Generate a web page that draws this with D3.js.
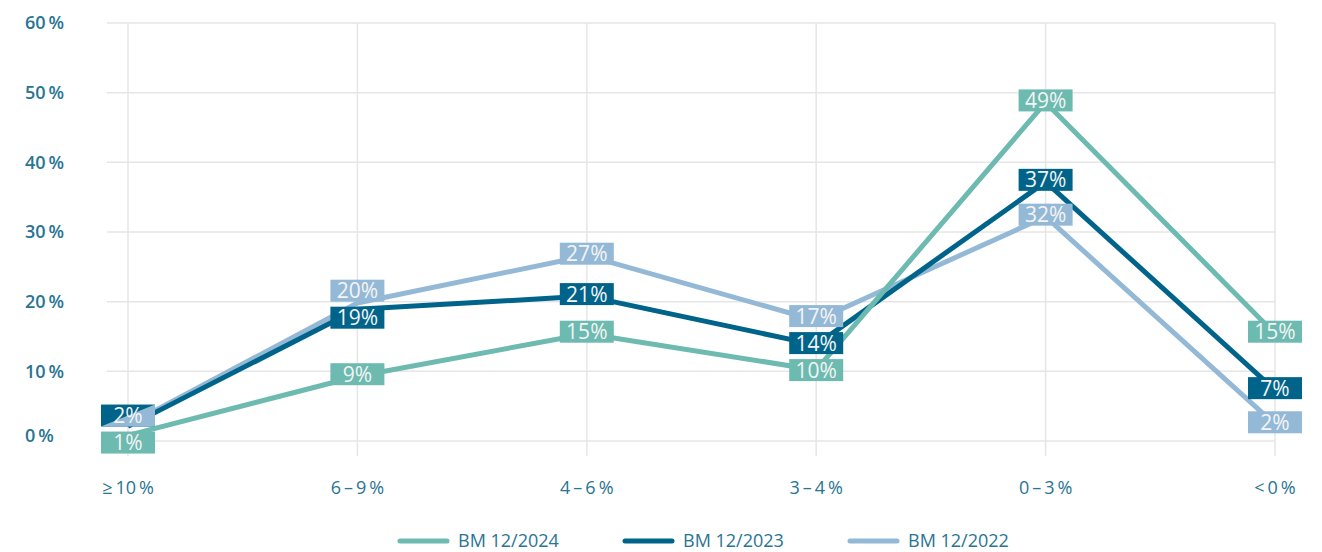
<!DOCTYPE html>
<html>
<head>
<meta charset="utf-8">
<script src="https://cdn.jsdelivr.net/npm/d3@7"></script>
<style>
  body { margin: 0; background: #fff; }
  svg { display: block; font-family: "Open Sans", sans-serif; }
</style>
</head>
<body>
<div id="chart"></div>
<script>
(function () {
    // categories and values (percent)
    var categories = ["≥\u200910\u2009%", "6\u2009–\u20099\u2009%", "4\u2009–\u20096\u2009%", "3\u2009–\u20094\u2009%", "0\u2009–\u20093\u2009%", "<\u20090\u2009%"];
    var seriesNames = ["BM 12/2024", "BM 12/2023", "BM 12/2022"];
    var bm2024 = [0.8, 9.3, 15.4, 10.2, 48.6, 15.4];
    var bm2023 = [2.1, 18.9, 20.8, 13.8, 37.2, 7.3];
    var bm2022 = [2.3, 19.8, 26.6, 17.3, 32.2, 2.4];
    var yTicks = [0, 10, 20, 30, 40, 50, 60];

    var colors = ["#6dbab0", "#00648a", "#94b9d7"];
    var axisColor = "#2a7494";

    var width = 1322, height = 552;
    var series = [bm2024, bm2023, bm2022].map(function (vals, i) {
        return { name: seriesNames[i], color: colors[i], values: vals, idx: i };
    });

    var x = d3.scalePoint().domain(categories).range([128, 1275]);
    var y = d3.scaleLinear().domain([0, 60]).range([441, 23]);

    var svg = d3.select("#chart").append("svg")
        .attr("width", width)
        .attr("height", height);

    // grid
    svg.append("g").selectAll("line")
        .data(yTicks)
        .join("line")
        .attr("x1", 107).attr("x2", x(categories[categories.length - 1]))
        .attr("y1", d => y(d)).attr("y2", d => y(d))
        .attr("stroke", "#e6e6e6").attr("stroke-width", 1.5);

    svg.append("g").selectAll("line")
        .data(categories)
        .join("line")
        .attr("x1", d => x(d)).attr("x2", d => x(d))
        .attr("y1", y(60)).attr("y2", 456)
        .attr("stroke", "#e6e6e6").attr("stroke-width", 1.5);

    // y labels
    svg.append("g").selectAll("text")
        .data(yTicks)
        .join("text")
        .attr("x", 25)
        .attr("y", d => y(d) + (d === 0 ? -5 : 0))
        .attr("dy", "0.35em")
        .attr("fill", axisColor)
        .attr("font-size", 18)
        .attr("font-weight", 600)
        .text(d => d + "\u2009%");

    // x labels
    svg.append("g").selectAll("text")
        .data(categories)
        .join("text")
        .attr("x", d => x(d))
        .attr("y", 488)
        .attr("dy", "0.35em")
        .attr("text-anchor", "middle")
        .attr("fill", axisColor)
        .attr("font-size", 18)
        .text(d => d);

    // lines
    var line = d3.line()
        .x((d, i) => x(categories[i]))
        .y(d => y(d));

    svg.append("g").selectAll("path")
        .data(series.slice().reverse())
        .join("path")
        .attr("d", d => line(d.values))
        .attr("fill", "none")
        .attr("stroke", d => d.color)
        .attr("stroke-width", 5)
        .attr("stroke-linejoin", "round");

    // data labels with simple collision avoidance per category
    var boxW = 54, boxH = 22, gap = 27;
    var labelLayer = svg.append("g");

    categories.forEach(function (cat, ci) {
        var slots = [];
        series.forEach(function (s) {
            var txt = Math.round(s.values[ci]) + "%";
            var existing = slots.find(sl => sl.text === txt);
            if (existing) {
                existing.members.push(s);
                existing.y = (existing.y + y(s.values[ci])) / 2;
            } else {
                slots.push({ text: txt, y: y(s.values[ci]) - 2, members: [s] });
            }
        });
        slots.sort((a, b) => a.y - b.y);
        for (var pass = 0; pass < 20; pass++) {
            for (var k = 0; k < slots.length - 1; k++) {
                var dd = slots[k + 1].y - slots[k].y;
                if (dd < gap) {
                    var push = (gap - dd) / 2;
                    slots[k].y -= push;
                    slots[k + 1].y += push;
                }
            }
        }
        var cx = x(cat);
        slots.forEach(function (sl) {
            var g = labelLayer.append("g").attr("transform", `translate(${cx},${sl.y})`);
            sl.members.forEach(function (s, m) {
                if (m === 0) {
                    g.append("rect")
                        .attr("x", -boxW / 2).attr("y", -boxH / 2)
                        .attr("width", boxW).attr("height", boxH)
                        .attr("fill", s.color);
                } else {
                    // overlapping box of an equal label, drawn as the lower triangle
                    g.append("path")
                        .attr("d", `M${-boxW / 2},${boxH / 2}L${boxW / 2},${-boxH / 2}L${boxW / 2},${boxH / 2}Z`)
                        .attr("fill", s.color);
                }
            });
            g.append("text")
                .attr("text-anchor", "middle")
                .attr("dy", "0.36em")
                .attr("fill", "#f4f4f4")
                .attr("font-size", 21)
                .text(sl.text);
        });
    });

    // legend
    var legend = svg.append("g").selectAll("g")
        .data(series)
        .join("g")
        .attr("transform", (d, i) => `translate(${400 + i * 225},541)`);

    legend.append("line")
        .attr("x1", 0).attr("x2", 47)
        .attr("stroke", d => d.color)
        .attr("stroke-width", 5)
        .attr("stroke-linecap", "round");

    legend.append("text")
        .attr("x", 58)
        .attr("dy", "0.32em")
        .attr("fill", axisColor)
        .attr("font-size", 18)
        .text(d => d.name);
}());
</script>
</body>
</html>
